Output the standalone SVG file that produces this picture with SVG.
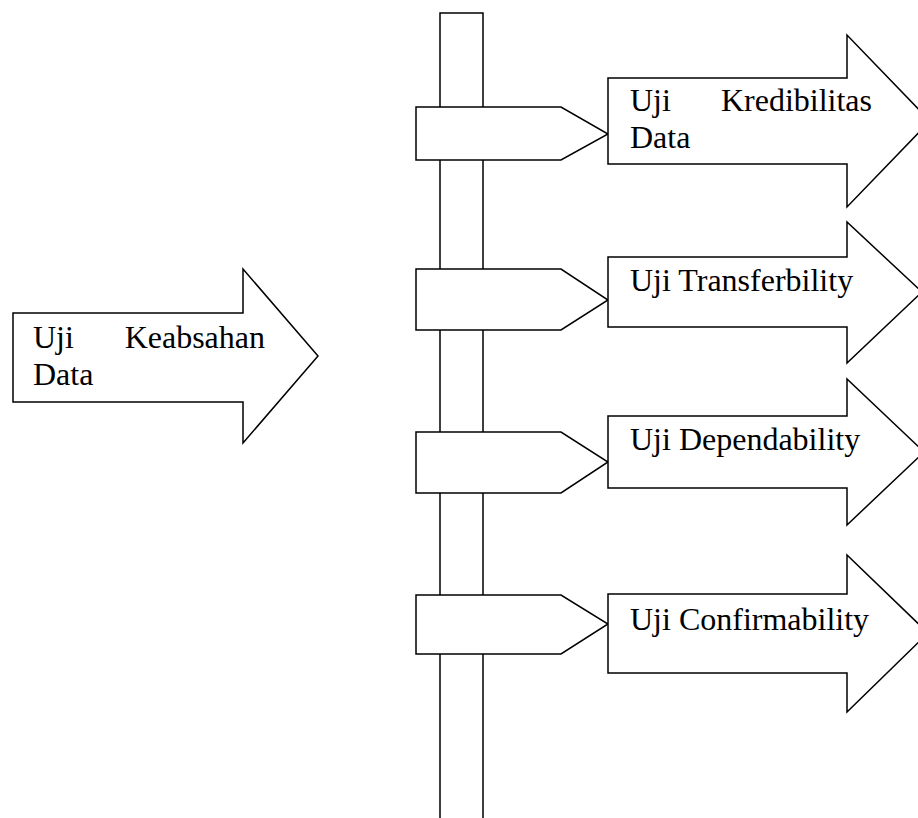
<svg xmlns="http://www.w3.org/2000/svg" width="918" height="818" viewBox="0 0 918 818">
<style>
.s{fill:#fff;stroke:#000;stroke-width:1.5;stroke-linejoin:miter}
.t{font-family:"Liberation Serif","Times New Roman",serif;font-size:32px;fill:#000}
</style>
<rect width="918" height="818" fill="#fff"/>
<g id="source">
<polygon class="s" points="13,313 243,313 243,269 318,356 243,443 243,402 13,402"/>
<text class="t" x="33" y="348">Uji</text>
<text class="t" x="265" y="348" text-anchor="end">Keabsahan</text>
<text class="t" x="33" y="385">Data</text>
</g>
<g id="connectors">
<path class="s" d="M440,818 V13 H483 V818" fill="#fff"/>
<polygon class="s" points="416,107 561,107 608,134 561,160 416,160"/>
<polygon class="s" points="416,269 561,269 608,300 561,330 416,330"/>
<polygon class="s" points="416,432 561,432 608,462 561,493 416,493"/>
<polygon class="s" points="416,595 561,595 608,624 561,654 416,654"/>
</g>
<g id="kredibilitas">
<polygon class="s" points="608,78 847,78 847,35 930,121 847,207 847,164 608,164"/>
<text class="t" x="630" y="111">Uji</text>
<text class="t" x="872" y="111" text-anchor="end">Kredibilitas</text>
<text class="t" x="630" y="148">Data</text>
</g>
<g id="transferbility">
<polygon class="s" points="608,257 847,257 847,222 922,292 847,363 847,327 608,327"/>
<text class="t" x="630" y="291">Uji Transferbility</text>
</g>
<g id="dependability">
<polygon class="s" points="608,416 847,416 847,379 924,452 847,525 847,488 608,488"/>
<text class="t" x="630" y="450">Uji Dependability</text>
</g>
<g id="confirmability">
<polygon class="s" points="608,594 847,594 847,555 928,633 847,712 847,673 608,673"/>
<text class="t" x="630" y="630">Uji Confirmability</text>
</g>
</svg>
